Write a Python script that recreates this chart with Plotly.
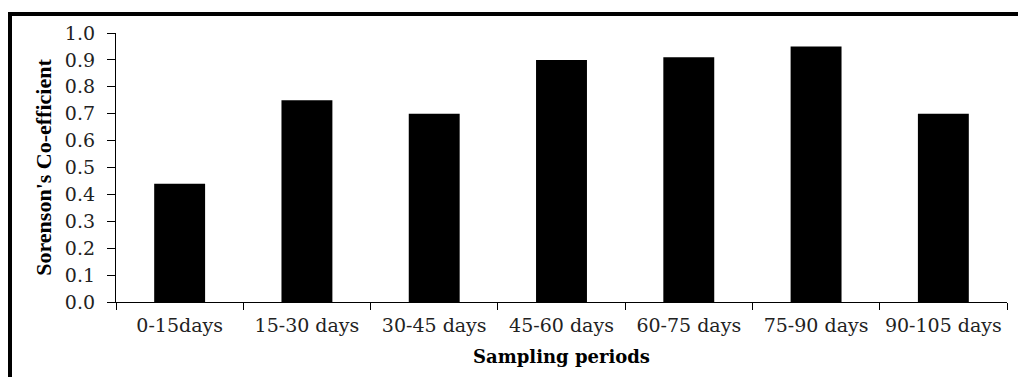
import plotly.graph_objects as go

categories = ["0-15days", "15-30 days", "30-45 days", "45-60 days",
              "60-75 days", "75-90 days", "90-105 days"]
values = [0.44, 0.75, 0.70, 0.90, 0.91, 0.95, 0.70]
y_ticks = [0.0, 0.1, 0.2, 0.3, 0.4, 0.5, 0.6, 0.7, 0.8, 0.9, 1.0]
x_title = "Sampling periods"
y_title = "Sorenson's Co-efficient"

fig = go.Figure()
fig.add_trace(go.Bar(
    x=categories, y=values,
    marker=dict(color="black", line=dict(width=0)),
    showlegend=False,
))

tick_font = dict(family="DejaVu Serif", size=19, color="#222222")

# page body has an 8px margin; figure is sized so the plot area lands where the reference has it
fig.update_layout(
    width=1018, height=369,
    margin=dict(l=108, r=19, t=25, b=75),
    paper_bgcolor="white", plot_bgcolor="white",
    bargap=0.6,
    xaxis=dict(
        type="category",
        showline=True, linecolor="black", linewidth=1.3,
        ticks="outside", ticklen=7, tickcolor="black", tickwidth=1.3,
        tickson="boundaries",
        showgrid=False, zeroline=False,
        tickfont=tick_font,
        ticklabelstandoff=6,
        title=dict(text=x_title, standoff=15,
                   font=dict(family="DejaVu Serif", size=18, color="black", weight="bold")),
    ),
    yaxis=dict(
        range=[0, 1.0],
        tickvals=y_ticks,
        tickformat=".1f",
        showline=True, linecolor="black", linewidth=1.3,
        ticks="outside", ticklen=8, tickcolor="black", tickwidth=1.3,
        showgrid=False, zeroline=False,
        tickfont=tick_font,
        ticklabelstandoff=8,
        title=dict(text=y_title, standoff=7,
                   font=dict(family="Liberation Serif", size=22, color="black", weight="bold")),
    ),
    shapes=[dict(
        type="rect", xref="paper", yref="paper",
        x0=(10 - 116) / 891, x1=1.2,
        y0=-0.6, y1=1 + (33 - 14) / 269,
        line=dict(color="black", width=4),
        fillcolor="rgba(0,0,0,0)",
        layer="above",
    )],
)

fig.write_html("out.html")
